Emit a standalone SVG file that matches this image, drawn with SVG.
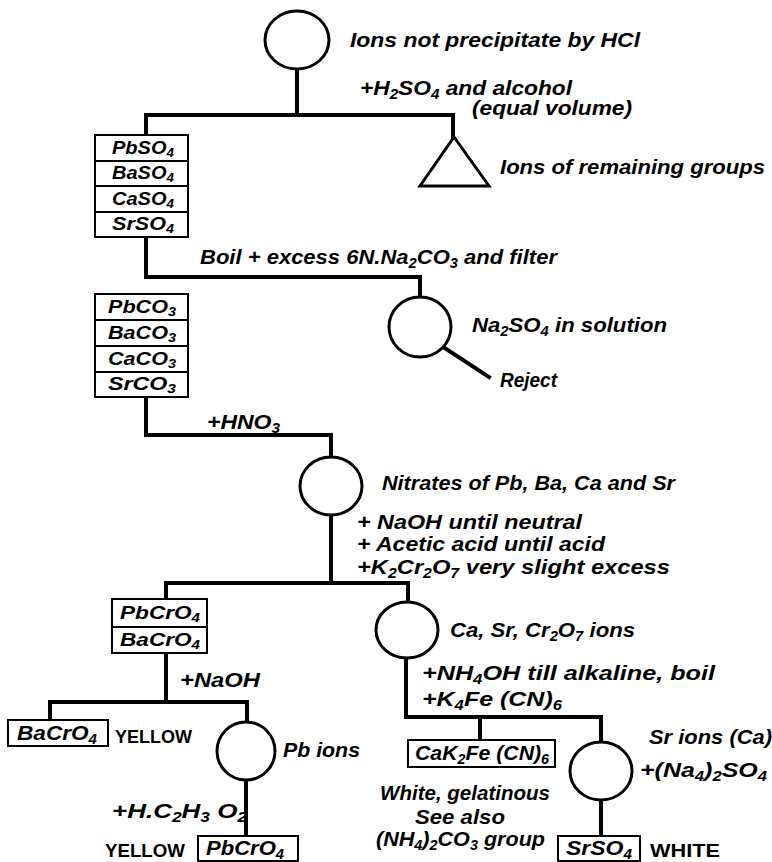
<svg xmlns="http://www.w3.org/2000/svg" width="772" height="862" viewBox="0 0 772 862">
<style>
.c{fill:#fff;stroke:#000;stroke-width:3}
.l{fill:none;stroke:#000;stroke-width:4;stroke-linejoin:miter;stroke-linecap:square}
.b{fill:#fff;stroke:#000;stroke-width:2}
.d{stroke:#000;stroke-width:2}
.t{font-family:"Liberation Sans",Arial,sans-serif;font-style:italic;font-weight:bold;font-size:21px;fill:#000}
.k{font-size:18px}
.u{font-family:"Liberation Sans",Arial,sans-serif;font-weight:bold;font-size:18px;fill:#000}
.s{font-size:14px}
.k .s{font-size:12px}
</style>
<rect width="772" height="862" fill="#fff"/>
<g id="connectors">
<path class="l" d="M297 70 V115"/>
<path class="l" d="M146 135 V115 H453 V137"/>
<path class="l" d="M146 237 V277 H420 V297"/>
<path class="l" d="M443 347 L489 377"/>
<path class="l" d="M146 397 V435 H331 V457"/>
<path class="l" d="M331 515 V583"/>
<path class="l" d="M166 599 V583 H408 V602"/>
<path class="l" d="M166 653 V702"/>
<path class="l" d="M50 720 V702 H247 V722"/>
<path class="l" d="M246 780 V836"/>
<path class="l" d="M406 658 V717 H601 V742"/>
<path class="l" d="M480 717 V740"/>
<path class="l" d="M601 800 V836"/>
</g>
<g id="n-start">
<ellipse class="c" cx="297" cy="40" rx="32" ry="29"/>
<text class="t" x="350" y="47" textLength="290" lengthAdjust="spacingAndGlyphs">Ions not precipitate by HCl</text>
</g>
<g id="e-h2so4">
<text class="t" x="360" y="95" textLength="212" lengthAdjust="spacingAndGlyphs">+H<tspan class="s" dy="4">2</tspan><tspan dy="-4">SO</tspan><tspan class="s" dy="4">4</tspan><tspan dy="-4"> and alcohol</tspan></text>
<text class="t" x="472" y="115" textLength="160" lengthAdjust="spacingAndGlyphs">(equal volume)</text>
</g>
<g id="n-sulfates">
<rect class="b" x="95" y="135" width="93" height="102"/>
<path class="d" d="M95 161 H188 M95 186 H188 M95 212 H188"/>
<text class="t k" x="112" y="154" textLength="62" lengthAdjust="spacingAndGlyphs">PbSO<tspan class="s" dy="3">4</tspan></text>
<text class="t k" x="112" y="179" textLength="62" lengthAdjust="spacingAndGlyphs">BaSO<tspan class="s" dy="3">4</tspan></text>
<text class="t k" x="112" y="205" textLength="62" lengthAdjust="spacingAndGlyphs">CaSO<tspan class="s" dy="3">4</tspan></text>
<text class="t k" x="112" y="230" textLength="62" lengthAdjust="spacingAndGlyphs">SrSO<tspan class="s" dy="3">4</tspan></text>
</g>
<g id="n-remaining">
<polygon class="c" points="454,137 489,186 420,186"/>
<text class="t" x="500" y="174" textLength="265" lengthAdjust="spacingAndGlyphs">Ions of remaining groups</text>
</g>
<g id="e-boil">
<text class="t" x="200" y="264" textLength="357" lengthAdjust="spacingAndGlyphs">Boil + excess 6N.Na<tspan class="s" dy="4">2</tspan><tspan dy="-4">CO</tspan><tspan class="s" dy="4">3</tspan><tspan dy="-4"> and filter</tspan></text>
</g>
<g id="n-na2so4">
<ellipse class="c" cx="420" cy="327" rx="31" ry="30"/>
<text class="t" x="472" y="332" textLength="195" lengthAdjust="spacingAndGlyphs">Na<tspan class="s" dy="4">2</tspan><tspan dy="-4">SO</tspan><tspan class="s" dy="4">4</tspan><tspan dy="-4"> in solution</tspan></text>
<text class="t" x="500" y="387" textLength="57" lengthAdjust="spacingAndGlyphs">Reject</text>
</g>
<g id="n-carbonates">
<rect class="b" x="95" y="294" width="93" height="103"/>
<path class="d" d="M95 320 H188 M95 346 H188 M95 372 H188"/>
<text class="t k" x="108" y="313" textLength="68" lengthAdjust="spacingAndGlyphs">PbCO<tspan class="s" dy="3">3</tspan></text>
<text class="t k" x="108" y="339" textLength="68" lengthAdjust="spacingAndGlyphs">BaCO<tspan class="s" dy="3">3</tspan></text>
<text class="t k" x="108" y="365" textLength="68" lengthAdjust="spacingAndGlyphs">CaCO<tspan class="s" dy="3">3</tspan></text>
<text class="t k" x="108" y="390" textLength="68" lengthAdjust="spacingAndGlyphs">SrCO<tspan class="s" dy="3">3</tspan></text>
</g>
<g id="e-hno3">
<text class="t" x="207" y="429" textLength="73" lengthAdjust="spacingAndGlyphs">+HNO<tspan class="s" dy="4">3</tspan></text>
</g>
<g id="n-nitrates">
<ellipse class="c" cx="331" cy="486" rx="31" ry="29"/>
<text class="t" x="382" y="490" textLength="293" lengthAdjust="spacingAndGlyphs">Nitrates of Pb, Ba, Ca and Sr</text>
</g>
<g id="e-reagents">
<text class="t" x="357" y="529" textLength="225" lengthAdjust="spacingAndGlyphs">+ NaOH until neutral</text>
<text class="t" x="357" y="551" textLength="248" lengthAdjust="spacingAndGlyphs">+ Acetic acid until acid</text>
<text class="t" x="357" y="574" textLength="313" lengthAdjust="spacingAndGlyphs">+K<tspan class="s" dy="4">2</tspan><tspan dy="-4">Cr</tspan><tspan class="s" dy="4">2</tspan><tspan dy="-4">O</tspan><tspan class="s" dy="4">7</tspan><tspan dy="-4"> very slight excess</tspan></text>
</g>
<g id="n-chromates">
<rect class="b" x="112" y="599" width="95" height="54"/>
<path class="d" d="M112 627 H207"/>
<text class="t k" x="120" y="619" textLength="80" lengthAdjust="spacingAndGlyphs">PbCrO<tspan class="s" dy="3">4</tspan></text>
<text class="t k" x="120" y="646" textLength="80" lengthAdjust="spacingAndGlyphs">BaCrO<tspan class="s" dy="3">4</tspan></text>
</g>
<g id="n-ca-sr">
<ellipse class="c" cx="407" cy="630" rx="31" ry="28"/>
<text class="t" x="450" y="637" textLength="185" lengthAdjust="spacingAndGlyphs">Ca, Sr, Cr<tspan class="s" dy="4">2</tspan><tspan dy="-4">O</tspan><tspan class="s" dy="4">7</tspan><tspan dy="-4"> ions</tspan></text>
</g>
<g id="e-naoh">
<text class="t" x="180" y="687" textLength="80" lengthAdjust="spacingAndGlyphs">+NaOH</text>
</g>
<g id="e-nh4oh">
<text class="t" x="422" y="680" textLength="293" lengthAdjust="spacingAndGlyphs">+NH<tspan class="s" dy="4">4</tspan><tspan dy="-4">OH till alkaline, boil</tspan></text>
<text class="t" x="422" y="706" textLength="140" lengthAdjust="spacingAndGlyphs">+K<tspan class="s" dy="4">4</tspan><tspan dy="-4">Fe (CN)</tspan><tspan class="s" dy="4">6</tspan></text>
</g>
<g id="n-bacro4">
<rect class="b" x="8" y="720" width="100" height="26"/>
<text class="t" x="17" y="740" textLength="80" lengthAdjust="spacingAndGlyphs">BaCrO<tspan class="s" dy="4">4</tspan></text>
<text class="u" x="115" y="743" textLength="77" lengthAdjust="spacingAndGlyphs">YELLOW</text>
</g>
<g id="n-pb">
<ellipse class="c" cx="246" cy="751" rx="29" ry="29"/>
<text class="t" x="283" y="757" textLength="77" lengthAdjust="spacingAndGlyphs">Pb  ions</text>
</g>
<g id="e-acetic">
<text class="t" x="112" y="818" textLength="135" lengthAdjust="spacingAndGlyphs">+H.C<tspan class="s" dy="4">2</tspan><tspan dy="-4">H</tspan><tspan class="s" dy="4">3</tspan><tspan dy="-4"> O</tspan><tspan class="s" dy="4">2</tspan></text>
</g>
<g id="n-pbcro4">
<text class="u" x="105" y="857" textLength="80" lengthAdjust="spacingAndGlyphs">YELLOW</text>
<rect class="b" x="198" y="836" width="100" height="25"/>
<text class="t" x="206" y="855" textLength="78" lengthAdjust="spacingAndGlyphs">PbCrO<tspan class="s" dy="4">4</tspan></text>
</g>
<g id="n-cak2fe">
<rect class="b" x="408" y="740" width="147" height="27"/>
<text class="t" x="415" y="760" textLength="134" lengthAdjust="spacingAndGlyphs">CaK<tspan class="s" dy="4">2</tspan><tspan dy="-4">Fe (CN)</tspan><tspan class="s" dy="4">6</tspan></text>
<text class="t" x="465" y="800" text-anchor="middle" textLength="170" lengthAdjust="spacingAndGlyphs">White, gelatinous</text>
<text class="t" x="460" y="824" text-anchor="middle" textLength="90" lengthAdjust="spacingAndGlyphs">See also</text>
<text class="t" x="376" y="846" textLength="169" lengthAdjust="spacingAndGlyphs">(NH<tspan class="s" dy="4">4</tspan><tspan dy="-4">)</tspan><tspan class="s" dy="4">2</tspan><tspan dy="-4">CO</tspan><tspan class="s" dy="4">3</tspan><tspan dy="-4"> group</tspan></text>
</g>
<g id="n-sr">
<ellipse class="c" cx="601" cy="771" rx="31" ry="29"/>
<text class="t" x="649" y="744" textLength="123" lengthAdjust="spacingAndGlyphs">Sr ions (Ca)</text>
<text class="t" x="640" y="777" textLength="127" lengthAdjust="spacingAndGlyphs">+(Na<tspan class="s" dy="4">4</tspan><tspan dy="-4">)</tspan><tspan class="s" dy="4">2</tspan><tspan dy="-4">SO</tspan><tspan class="s" dy="4">4</tspan></text>
</g>
<g id="n-srso4">
<rect class="b" x="558" y="836" width="82" height="25"/>
<text class="t" x="566" y="855" textLength="66" lengthAdjust="spacingAndGlyphs">SrSO<tspan class="s" dy="4">4</tspan></text>
<text class="u" x="650" y="857" textLength="70" lengthAdjust="spacingAndGlyphs">WHITE</text>
</g>
</svg>
